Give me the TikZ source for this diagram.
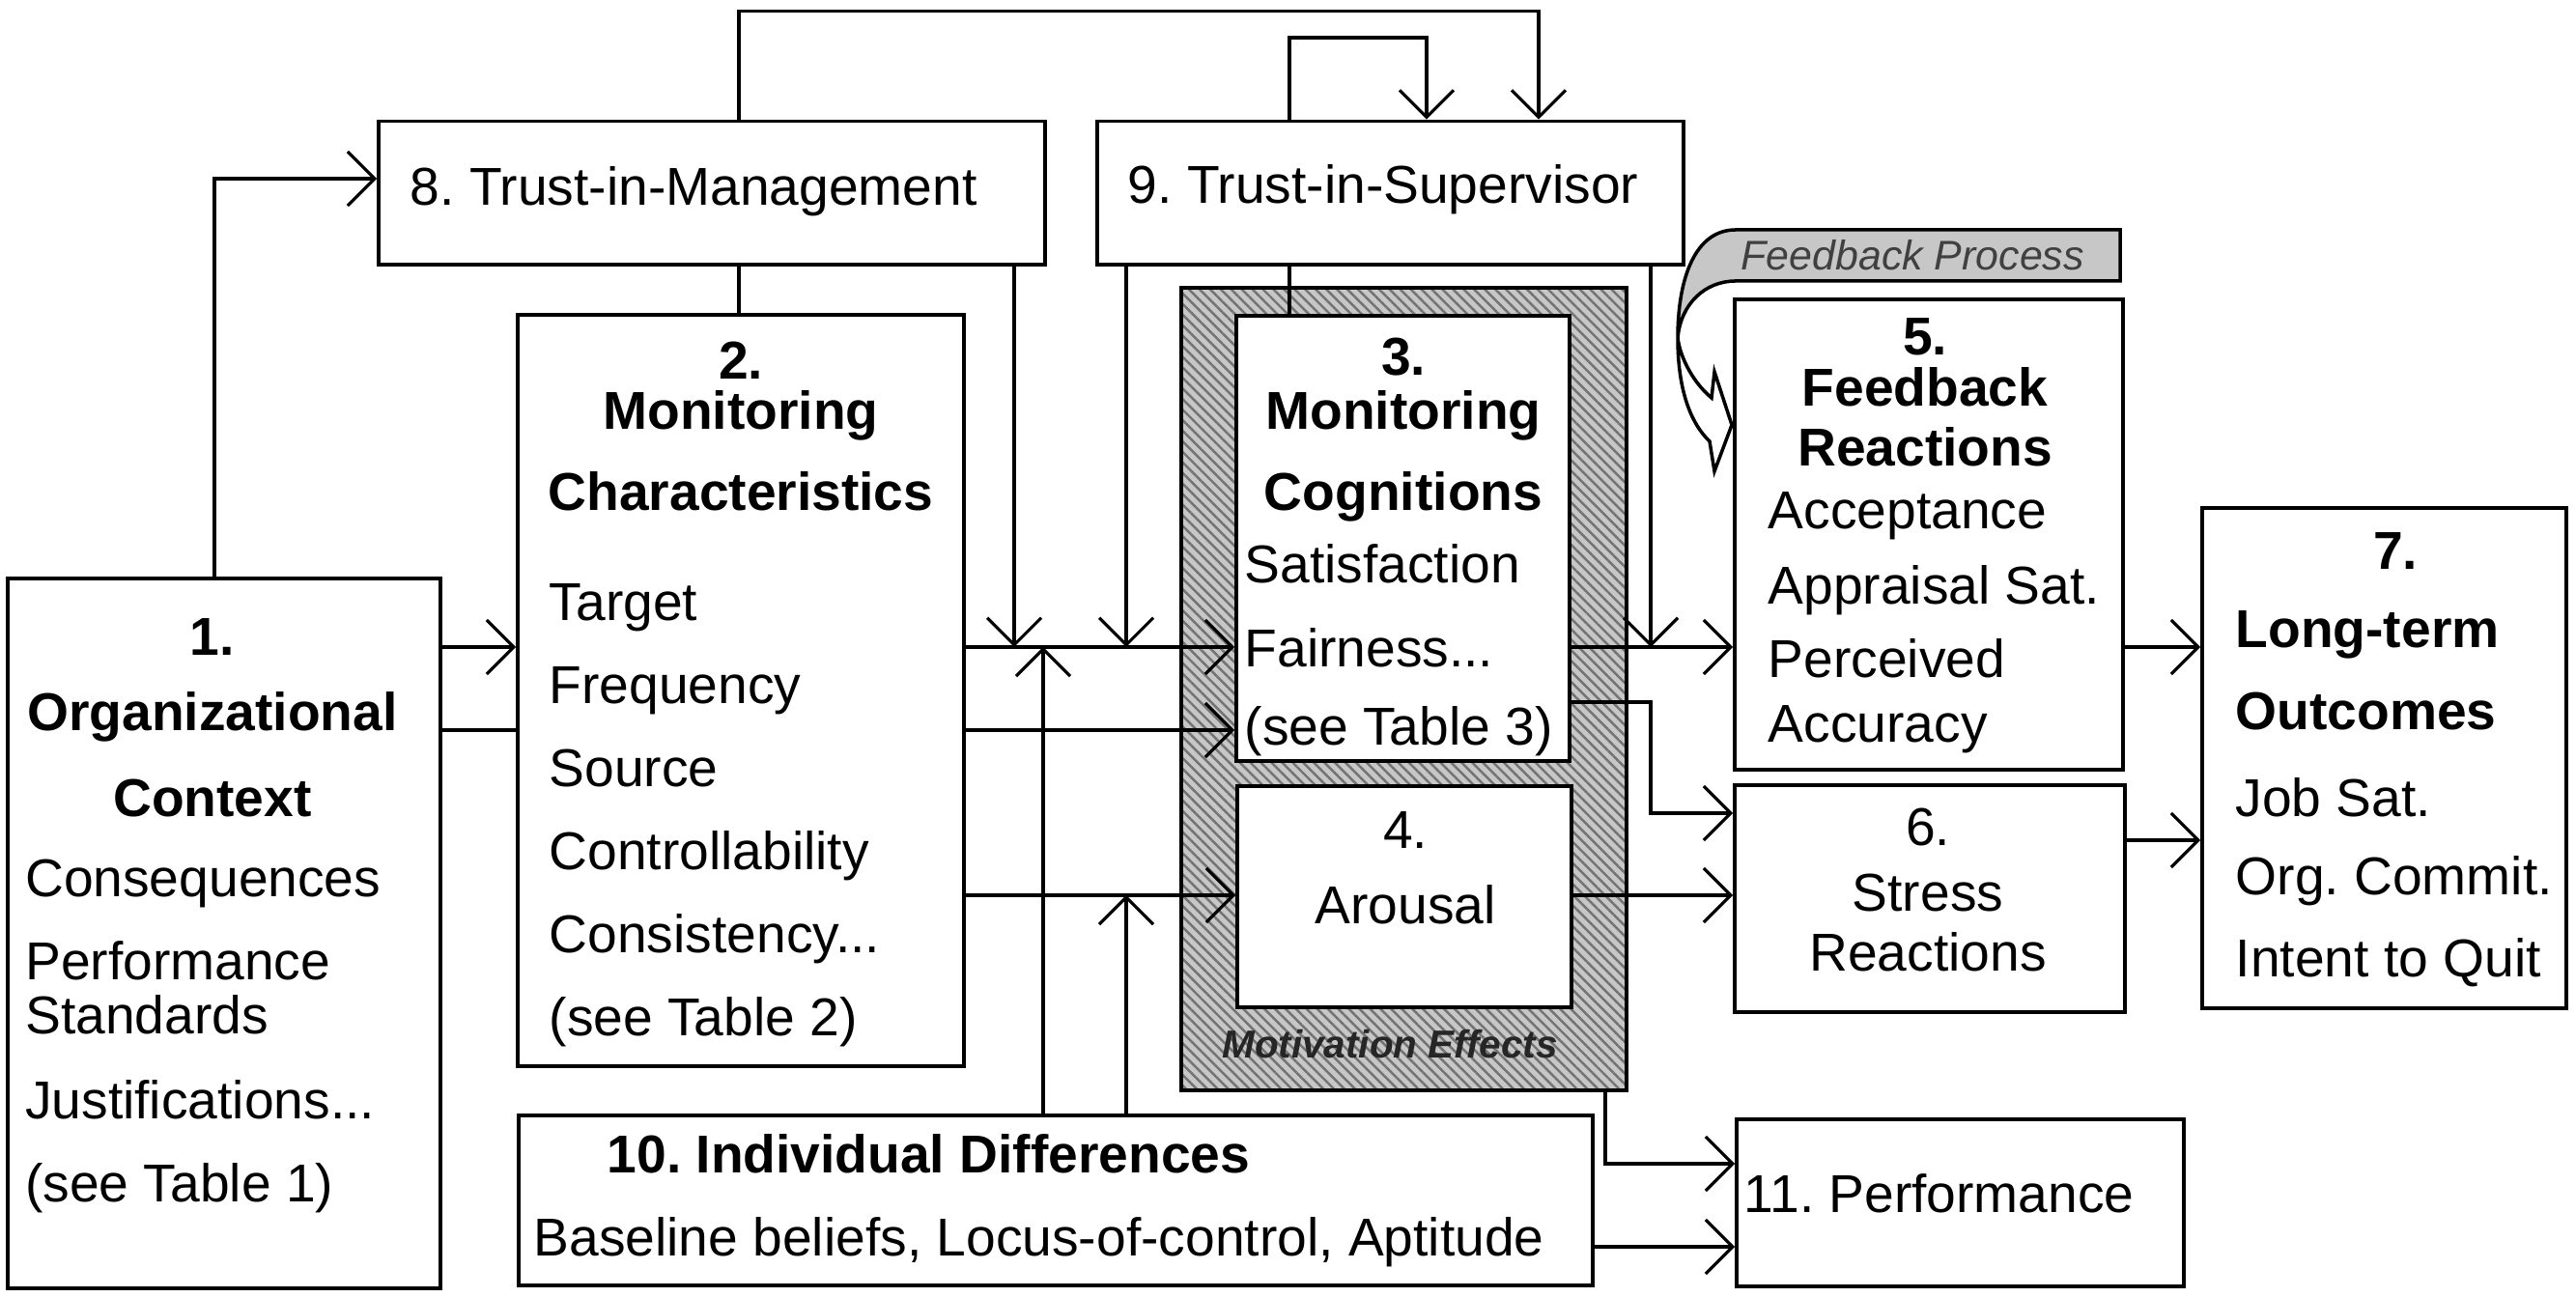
\documentclass[tikz,border=0pt]{standalone}
\usepackage{fontspec}
\setmainfont{Liberation Sans}
\usepackage{tikz}
\usetikzlibrary{arrows.meta, patterns, patterns.meta, positioning, calc}

\newcommand{\boxfont}{\fontsize{15.7}{19}\selectfont\frenchspacing}

\tikzset{
  box/.style={draw, line width=1.1pt, fill=white, inner sep=0pt},
  hatchbox/.style={draw, line width=1.1pt, inner sep=0pt, preaction={fill=black!22},
    pattern={Lines[angle=-45, distance=2.2pt, line width=0.7pt]}, pattern color=black!55},
  item/.style={anchor=base west, inner sep=0pt, font=\boxfont},
  head/.style={anchor=base, inner sep=0pt, font=\boxfont\bfseries},
  plain/.style={anchor=base, inner sep=0pt, font=\boxfont},
  link/.style={line width=0.9pt},
  arr/.style={line width=0.9pt, -{Straight Barb[length=2.8mm, width=5.6mm]}},
}

\begin{document}
\begin{tikzpicture}

\useasboundingbox (0,0) rectangle (26.67,13.43);

%// boxes
\node[box, minimum width=4.48cm, minimum height=7.35cm] (orgc) at (2.32,3.765) {};
\node[box, minimum width=4.62cm, minimum height=7.78cm] (monc) at (7.67,6.28) {};
\node[box, minimum width=6.90cm, minimum height=1.485cm] (trm) at (7.37,11.4325) {};
\node[box, minimum width=6.07cm, minimum height=1.485cm] (trs) at (14.395,11.4325) {};
\node[hatchbox, minimum width=4.61cm, minimum height=8.31cm] (motiv) at (14.535,6.295) {};
\node[box, minimum width=3.45cm, minimum height=4.61cm] (mcog) at (14.525,7.855) {};
\node[box, minimum width=3.46cm, minimum height=2.29cm] (arou) at (14.54,4.145) {};
\node[box, minimum width=4.02cm, minimum height=4.87cm] (fbr) at (19.97,7.895) {};
\node[box, minimum width=4.04cm, minimum height=2.35cm] (str) at (19.98,4.125) {};
\node[box, minimum width=3.77cm, minimum height=5.18cm] (ltout) at (24.685,5.58) {};
\node[box, minimum width=11.12cm, minimum height=1.76cm] (indiv) at (10.93,1.00) {};
\node[box, minimum width=4.63cm, minimum height=1.73cm] (perf) at (20.295,0.975) {};

%// 1
\node[head] (h1a) at (2.20,6.64) {1.};
\node[head] (h1b) at (2.20,5.86) {Organizational};
\node[head] (h1c) at (2.20,4.97) {Context};
\foreach \y/\txt [count=\i] in {4.14/Consequences, 3.28/Performance, 2.72/Standards, 1.84/{Justifications...}, 0.98/{(see Table 1)}}
\node[item] (t1\i) at (0.255,\y) {\txt};

%// 2
\node[head] (h2a) at (7.67,9.50) {2.};
\node[head] (h2b) at (7.67,8.98) {Monitoring};
\node[head] (h2c) at (7.67,8.14) {Characteristics};
\foreach \y/\txt [count=\i] in {7.00/Target, 6.14/Frequency, 5.28/Source, 4.42/Controllability, 3.56/{Consistency...}, 2.70/{(see Table 2)}}
\node[item] (t2\i) at (5.68,\y) {\txt};

%// 3 and 4
\node[head] (h3a) at (14.53,9.54) {3.};
\node[head] (h3b) at (14.53,8.98) {Monitoring};
\node[head] (h3c) at (14.53,8.14) {Cognitions};
\foreach \y/\txt [count=\i] in {7.39/Satisfaction, 6.52/{Fairness...}, 5.71/{(see Table 3)}}
\node[item] (t3\i) at (12.88,\y) {\txt};

\node[plain] (h4a) at (14.55,4.64) {4.};
\node[plain] (h4b) at (14.55,3.86) {Arousal};

\node[anchor=base, inner sep=0pt, font=\fontsize{11.5}{13}\selectfont\bfseries\itshape, text=black!85] (mtxt) at (14.39,2.47) {Motivation Effects};

%// 5, 6, 7
\node[head] (h5a) at (19.93,9.75) {5.};
\node[head] (h5b) at (19.93,9.22) {Feedback};
\node[head] (h5c) at (19.93,8.60) {Reactions};
\foreach \y/\txt [count=\i] in {7.95/Acceptance, 7.17/{Appraisal Sat.}, 6.41/Perceived, 5.74/Accuracy}
\node[item] (t5\i) at (18.30,\y) {\txt};

\node[plain] (h6a) at (19.96,4.67) {6.};
\node[plain] (h6b) at (19.96,3.99) {Stress};
\node[plain] (h6c) at (19.96,3.37) {Reactions};

\node[head] (h7a) at (24.80,7.53) {7.};
\node[head, anchor=base west] (h7b) at (23.14,6.72) {Long-term};
\node[head, anchor=base west] (h7c) at (23.14,5.87) {Outcomes};
\foreach \y/\txt [count=\i] in {4.97/{Job Sat.}, 4.16/{Org. Commit.}, 3.31/{Intent to Quit}}
\node[item] (t7\i) at (23.14,\y) {\txt};

%// 8 - 11
\node[item] (t8) at (4.24,11.30) {8. Trust-in-Management};
\node[item] (t9) at (11.67,11.32) {9. Trust-in-Supervisor};
\node[item, font=\boxfont\bfseries] (t10a) at (6.28,1.28) {10. Individual Differences};
\node[item] (t10b) at (5.52,0.42) {Baseline beliefs, Locus-of-control, Aptitude};
\node[item] (t11) at (18.05,0.87) {11. Performance};

%// feedback process banner
\filldraw[fill=black!22, line width=1pt] (21.95,11.05) -- (17.97,11.05)
  .. controls (17.55,11.05) and (17.37,10.55) .. (17.37,9.93)
  .. controls (17.40,10.28) and (17.65,10.52) .. (17.97,10.52) -- (21.95,10.52) -- cycle;
\filldraw[fill=white, line width=1pt] (17.37,9.93)
  .. controls (17.37,9.40) and (17.50,9.05) .. (17.70,8.86) -- (17.75,8.55) -- (17.93,9.03)
  -- (17.75,9.58) -- (17.72,9.31) .. controls (17.55,9.45) and (17.40,9.70) .. (17.37,9.93) -- cycle;
\node[anchor=base west, inner sep=0pt, font=\fontsize{12.2}{14}\selectfont\itshape, text=black!75] (fbtxt) at (18.02,10.63) {Feedback Process};

%// rows and columns of the connectors
\coordinate (rTM) at (0,11.58);
\coordinate (rTop) at (0,13.315);
\coordinate (rLoop) at (0,13.04);
\coordinate (rA) at (0,6.73);
\coordinate (rB) at (0,5.87);
\coordinate (rC) at (0,6.16);
\coordinate (rD) at (0,5.01);
\coordinate (rE) at (0,4.16);
\coordinate (rF) at (0,4.73);
\coordinate (rG) at (0,1.38);
\coordinate (rH) at (0,0.52);
\coordinate (cOrg) at (2.22,0);
\coordinate (cTM) at (7.65,0);
\coordinate (cTS) at (15.93,0);
\coordinate (cLa) at (13.35,0);
\coordinate (cLb) at (14.77,0);
\coordinate (cM) at (10.50,0);
\coordinate (cS) at (11.66,0);
\coordinate (cI) at (10.80,0);
\coordinate (cR) at (17.09,0);
\coordinate (cP) at (16.62,0);

%// connectors
\draw[arr] (cOrg |- orgc.north) -- (cOrg |- rTM) -- (trm.west |- rTM);
\draw[link] (cTM |- trm.south) -- (cTM |- monc.north);
\draw[arr] (cTM |- trm.north) -- (cTM |- rTop) -- (cTS |- rTop) -- (cTS |- trs.north);
\draw[arr] (cLa |- trs.north) -- (cLa |- rLoop) -- (cLb |- rLoop) -- (cLb |- trs.north);
\draw[link] (cLa |- trs.south) -- (cLa |- mcog.north);
\draw[arr] (cM |- trm.south) -- (cM |- rA);
\draw[arr] (cS |- trs.south) -- (cS |- rA);
\draw[arr] (cR |- trs.south) -- (cR |- rA);

\draw[arr] (orgc.east |- rA) -- (monc.west |- rA);
\draw[link] (orgc.east |- rB) -- (monc.west |- rB);
\draw[arr] (monc.east |- rA) -- (mcog.west |- rA);
\draw[arr] (monc.east |- rB) -- (mcog.west |- rB);
\draw[arr] (monc.east |- rE) -- (arou.west |- rE);
\draw[arr] (cI |- indiv.north) -- (cI |- rA);
\draw[arr] (cS |- indiv.north) -- (cS |- rE);

\draw[arr] (mcog.east |- rA) -- (fbr.west |- rA);
\draw[arr] (mcog.east |- rC) -- (cR |- rC) -- (cR |- rD) -- (str.west |- rD);
\draw[arr] (arou.east |- rE) -- (str.west |- rE);
\draw[arr] (fbr.east |- rA) -- (ltout.west |- rA);
\draw[arr] (str.east |- rF) -- (ltout.west |- rF);
\draw[arr] (cP |- motiv.south) -- (cP |- rG) -- (perf.west |- rG);
\draw[arr] (indiv.east |- rH) -- (perf.west |- rH);

\end{tikzpicture}
\end{document}
